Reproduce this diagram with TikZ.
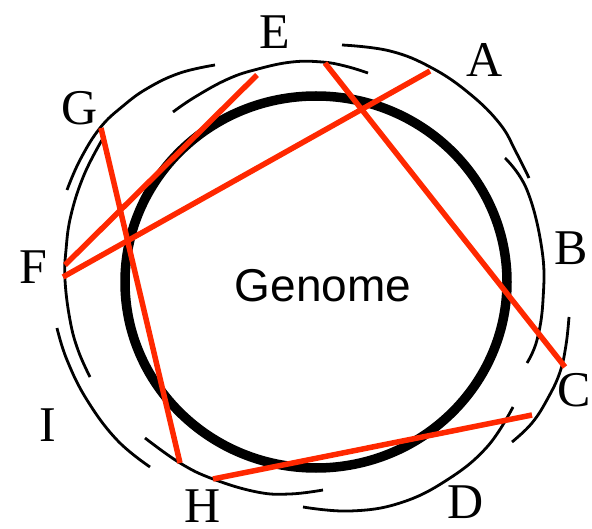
\documentclass[tikz,border=0pt]{standalone}
\usepackage{fontspec}
\setmainfont{Liberation Serif}
\newfontfamily\genomefont{Liberation Sans}
\definecolor{seqred}{RGB}{255,40,0}
\begin{document}
\begin{tikzpicture}[x=1pt,y=-1pt,
  contig/.style={line width=2.8pt, black},
  genomering/.style={line width=9.5pt, black},
  link/.style={line width=5.5pt, seqred},
  lbl/.style={font=\fontsize{50}{50}\selectfont, inner sep=0pt},
  glbl/.style={font=\genomefont\fontsize{46}{46}\selectfont, inner sep=0pt},
]
\useasboundingbox (0,0) rectangle (592,529);

% genome ring
\draw[genomering] (316,282) ellipse [x radius=191pt, y radius=186pt];
\node[glbl] (genome) at (323,286) {Genome};

% contig arcs
\draw[contig] plot[smooth, tension=0.7] coordinates {(215,65) (180,73) (148,88) (123,106) (100,128) (80,160) (67,190)};
\draw[contig] plot[smooth, tension=0.7] coordinates {(173,112) (195,97) (228,79) (258,69) (292,62) (322,62) (345,66) (368,73)};
\draw[contig] plot[smooth, tension=0.7] coordinates {(342,45) (390,51) (432,68) (470,94) (500,124) (516,152) (529,178)};
\draw[contig] plot[smooth, tension=0.7] coordinates {(505,158) (527,190) (542,250) (543,300) (537,340) (527,363)};
\draw[contig] plot[smooth, tension=0.7] coordinates {(569,317) (566,345) (560,372) (548,398) (532,423) (512,442)};
\draw[contig] plot[smooth, tension=0.7] coordinates {(513,407) (487,447) (447,480) (400,503) (350,511) (303,507)};
\draw[contig] plot[smooth, tension=0.7] coordinates {(145,438) (180,463) (213,479) (257,492) (290,494) (323,490)};
\draw[contig] plot[smooth, tension=0.7] coordinates {(57,328) (67,360) (87,400) (117,440) (150,467)};
\draw[contig] plot[smooth, tension=0.7] coordinates {(102,140) (84,175) (71,215) (66,250) (65,280) (70,320) (78,350) (90,377)};

% link end points
\coordinate (e1) at (257,75);
\coordinate (f1) at (65,265);
\coordinate (a1) at (430,71);
\coordinate (f2) at (63,277);
\coordinate (e2) at (325,63);
\coordinate (c1) at (565,367);
\coordinate (g1) at (101,128);
\coordinate (h1) at (180,463);
\coordinate (h2) at (213,479);
\coordinate (c2) at (532,415);

% links
\draw[link] (e1) -- (f1);
\draw[link] (a1) -- (f2);
\draw[link] (e2) -- (c1);
\draw[link] (g1) -- (h1);
\draw[link] (h2) -- (c2);

% labels
\node[lbl] (le) at (275,32) {E};
\node[lbl] (la) at (485,60) {A};
\node[lbl] (lg) at (80,108) {G};
\node[lbl] (lb) at (571,248) {B};
\node[lbl] (lf) at (33,267) {F};
\node[lbl] (lc) at (574,390) {C};
\node[lbl] (li) at (48,425) {I};
\node[lbl] (lh) at (203,506) {H};
\node[lbl] (ld) at (466,502) {D};
\end{tikzpicture}
\end{document}
